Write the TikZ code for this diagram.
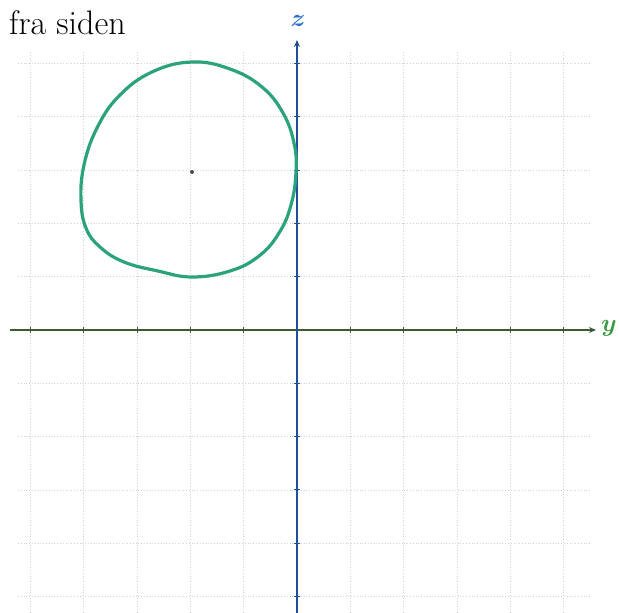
\documentclass[tikz,border=0pt]{standalone}
\usepackage{amsmath,amssymb,bm}
\usetikzlibrary{arrows.meta}
\definecolor{circgreen}{HTML}{2BA37A}
\definecolor{zblue}{HTML}{1F4E9A}
\definecolor{zlab}{HTML}{2A6FCB}
\definecolor{yaxis}{HTML}{3E5A30}
\definecolor{ylab}{HTML}{3C9A44}
\begin{document}
\begin{tikzpicture}[x=1pt,y=-1pt,
  gridline/.style={gray!35,line width=0.8pt,dotted},
  axisz/.style={zblue,line width=1.6pt,-{Stealth[length=7pt,width=6pt]}},
  axisy/.style={yaxis,line width=1.4pt,-{Stealth[length=7pt,width=6pt]}},
  tick/.style={line width=1pt}]
\useasboundingbox (0,0) rectangle (619,613);
% grid
\foreach \i in {-5,...,5}{
  \draw[gridline] ({297+53.3*\i},52) -- ({297+53.3*\i},613);
  \draw[gridline] (18,{330+53.3*\i}) -- (592,{330+53.3*\i});
}
% axes
\coordinate (yl) at (10,330);
\coordinate (yr) at (596,330);
\coordinate (zb) at (297,613);
\coordinate (zt) at (297,40);
\draw[axisy] (yl) -- (yr);
\node[ylab,font=\fontsize{27}{30}\selectfont,anchor=west,inner sep=1pt] (ylabel) at (600,328) {$\bm{y}$};
\draw[axisz] (zb) -- (zt);
\node[zlab,font=\fontsize{26}{30}\selectfont] (zlabel) at (298,21) {$\bm{z}$};
% ticks
\foreach \i in {-5,...,-1,1,2,...,5}{
  \draw[tick,yaxis] ({297+53.3*\i},327) -- ({297+53.3*\i},333);
  \draw[tick,zblue] (294,{330+53.3*\i}) -- (300,{330+53.3*\i});
}
% circle
\draw[circgreen,line width=3.2pt,line join=round] plot[smooth cycle,tension=0.7] coordinates {
 (192,62) (230,69) (262,87) (283,113) (294,143) (296,172) (291,205) (279,233) (259,256) (230,271) (192,277)
 (158,271) (124,262) (100,247) (86,228) (81,200) (84,165) (97,128) (119,96) (152,72)};
\fill[black!70] (192,172) circle (2pt);
\node[anchor=north west,font=\fontsize{34}{38}\selectfont,inner sep=0pt] (title) at (9,10) {fra siden};
\end{tikzpicture}
\end{document}
